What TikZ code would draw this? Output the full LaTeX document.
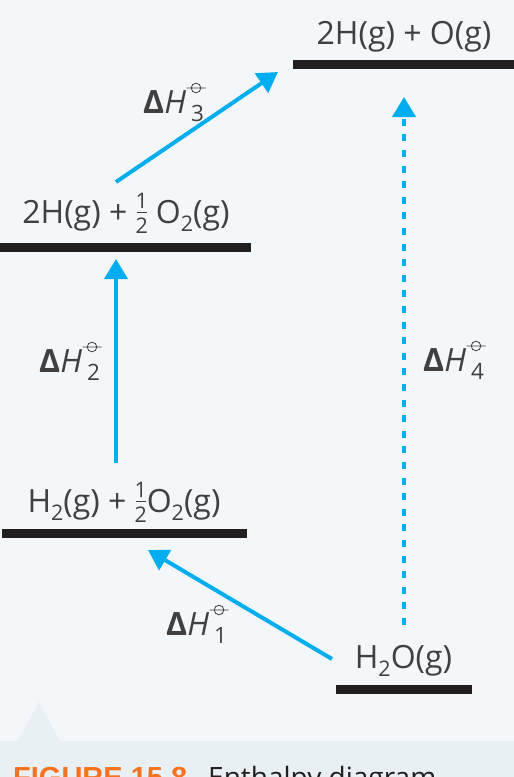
\documentclass[tikz,border=0pt]{standalone}
\usepackage{fontspec}
\setmainfont{Open Sans}
\newfontfamily\capfont{Liberation Sans}
\usetikzlibrary{arrows.meta}
\definecolor{bgA}{HTML}{F3F7FA}
\definecolor{bgB}{HTML}{E8F0F3}
\definecolor{barc}{HTML}{231F20}
\definecolor{arrc}{HTML}{00AEEF}
\definecolor{txtc}{HTML}{404040}
\definecolor{capor}{HTML}{F47321}
\newcommand{\fmain}{\fontsize{32}{38}\selectfont}
\newcommand{\fsmall}{\fontsize{21.5}{24}\selectfont}
\newcommand{\chalf}{\makebox[12pt]{\makebox[0pt]{\raisebox{15pt}{\fsmall 1}}\makebox[0pt]{\raisebox{11pt}{\rule[-0.35pt]{10pt}{0.7pt}}}\makebox[0pt]{\raisebox{-10pt}{\fsmall 2}}}}
\newcommand{\csub}[1]{\raisebox{-8pt}{\fsmall #1}}
\newcommand{\cplim}{\tikz[baseline=-25pt,x=1pt,y=1pt]{\draw[txtc,line width=0.8pt] (0,0) circle (4.8pt) (-9.5,0)--(9.5,0);}}
\newcommand{\dH}[1]{{\bfseries Δ}\textit{H}\makebox[0pt][l]{\cplim}\hspace{5pt}\raisebox{-8pt}{\fontsize{22.5}{24}\selectfont #1}}
\begin{document}
\begin{tikzpicture}[x=1pt,y=-1pt,
  bar/.style={fill=barc,inner sep=0,minimum height=9pt,anchor=west},
  lvl/.style={text=txtc,font=\fmain,inner sep=0,anchor=base},
  dhl/.style={text=txtc,font=\fmain,inner sep=0,anchor=base west},
  enarrow/.style={draw=arrc,line width=4pt,-{Triangle[length=20pt,width=23pt]}}]
% background
\fill[bgA] (0,0) rectangle (514,741);
\fill[bgB] (0,741) rectangle (514,777);
\fill[bgB] (18,741) -- (39,702) -- (60,741) -- cycle;
\useasboundingbox (0,0) rectangle (514,777);
% level bars
\node[bar,minimum width=221pt] (L4) at (293,64.5) {};
\node[bar,minimum width=251pt] (L3) at (0,247.5) {};
\node[bar,minimum width=245pt] (L2) at (2,533.5) {};
\node[bar,minimum width=136pt] (L1) at (336,689) {};
% level texts
\node[lvl] (T4) at (404,44) {2H(g) + O(g)};
\node[lvl] (T3) at (126,223) {2H(g) + \chalf\ O\csub{2}(g)};
\node[lvl] (T2) at (124,512) {H\csub{2}(g) + \chalf O\csub{2}(g)};
\node[lvl] (T1) at (403.5,668) {H\csub{2}O(g)};
% labels
\node[dhl] (D3) at (143,113) {\dH{3}};
\node[dhl] (D2) at (39,372) {\dH{2}};
\node[dhl] (D4) at (423,371) {\dH{4}};
\node[dhl] (D1) at (166,635) {\dH{1}};
% arrows
\coordinate (a1s) at (332,659); \coordinate (a1e) at (148,550);
\coordinate (a2s) at (116,463); \coordinate (a2e) at (116,259);
\coordinate (a3s) at (116,182); \coordinate (a3e) at (278,72);
\coordinate (a4s) at (404,625); \coordinate (a4e) at (404,97);
\draw[enarrow] (a1s) -- (a1e);
\draw[enarrow] (a2s) -- (a2e);
\draw[enarrow] (a3s) -- (a3e);
\draw[enarrow,dash pattern=on 7pt off 8.6pt] (a4s) -- (a4e);
% caption (cut by the lower edge, as in the reference)
\node[anchor=base west,inner sep=0,font=\capfont\bfseries\fontsize{29}{32}\selectfont,text=capor] (cap1) at (13,787) {FIGURE 15.8};
\node[anchor=base west,inner sep=0,font=\fontsize{28}{32}\selectfont,text=barc] (cap2) at (208,787) {Enthalpy diagram};
\end{tikzpicture}
\end{document}
